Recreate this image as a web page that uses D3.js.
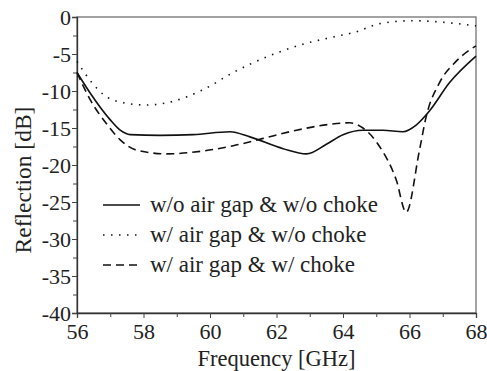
<!DOCTYPE html>
<html>
<head>
<meta charset="utf-8">
<script src="https://cdn.jsdelivr.net/npm/d3@7"></script>
</head>
<body style="margin:0; background:#fff">
<div id="chart"></div>
<script>
// values
const freqSolid = [56, 56.4, 57, 57.3, 57.6, 58.5, 59.5, 60.6, 61.2, 62.2, 62.9, 63.5, 64.0, 64.6, 65.2, 65.8, 66.2, 66.6, 67.2, 68];
const dbSolid   = [-7.5, -10.3, -13.9, -15.3, -15.9, -16.0, -15.9, -15.5, -16.2, -17.8, -18.5, -17.2, -15.9, -15.3, -15.3, -15.5, -14.6, -12.7, -8.9, -5.3];

const freqDotted = [56, 56.4, 56.8, 57.3, 58.1, 58.8, 59.8, 60.7, 61.7, 62.7, 63.6, 64.4, 65.1, 66.1, 67, 68];
const dbDotted   = [-6.0, -8.6, -10.5, -11.5, -11.9, -11.5, -9.8, -7.5, -5.4, -3.8, -2.8, -2.0, -0.9, -0.5, -0.7, -1.2];

const freqDashed = [56, 56.4, 56.9, 57.3, 57.8, 58.7, 59.8, 60.7, 61.6, 62.6, 63.6, 64.2, 64.6, 65.1, 65.6, 65.9, 66.3, 66.5, 66.9, 67.4, 68];
const dbDashed   = [-7.5, -11.2, -14.5, -16.6, -18.0, -18.5, -18.1, -17.4, -16.4, -15.3, -14.5, -14.3, -15.0, -17.5, -22.0, -26.4, -18.0, -13.5, -8.9, -6.0, -3.9];

const seriesNames = ["w/o air gap & w/o choke", "w/ air gap & w/o choke", "w/ air gap & w/ choke"];
const xTicks = [56, 58, 60, 62, 64, 66, 68];
const yTicks = [0, -5, -10, -15, -20, -25, -30, -35, -40];

const serif = "font-family:'Liberation Serif'; fill:#222; ";

const margin = {top: 17, right: 11, bottom: 58, left: 77};
const width = 487 - margin.left - margin.right;
const height = 371 - margin.top - margin.bottom;

const svg = d3.select("#chart").append("svg")
    .attr("width", 487)
    .attr("height", 371)
    .append("g")
    .attr("transform", `translate(${margin.left},${margin.top})`);

const x = d3.scaleLinear().domain([56, 68]).range([0, width]);
const y = d3.scaleLinear().domain([-40, 0]).range([height, 0]);

// frame
svg.append("rect")
    .attr("width", width)
    .attr("height", height)
    .attr("fill", "none")
    .attr("stroke", "#666")
    .attr("stroke-width", 1.2);

// plain hyphen for negatives, like the original
const fmt = d => String(d);

svg.append("g")
    .attr("transform", `translate(0,${height})`)
    .call(d3.axisBottom(x).tickValues(xTicks).tickSize(5).tickPadding(5).tickFormat(fmt));
svg.append("g")
    .attr("transform", `translate(0,${height})`)
    .call(d3.axisBottom(x).tickValues(d3.range(57, 68, 2)).tickSize(4).tickFormat(""))
    .select(".domain").remove();

svg.append("g")
    .call(d3.axisLeft(y).tickValues(yTicks).tickSize(5).tickPadding(1).tickFormat(fmt));
svg.append("g")
    .call(d3.axisLeft(y).tickValues(d3.range(-37.5, 0, 5)).tickSize(4).tickFormat(""))
    .select(".domain").remove();

svg.selectAll(".tick line").attr("stroke", "#444");
svg.selectAll(".domain").attr("stroke", "#333").attr("stroke-width", 1.3);
svg.selectAll(".tick text")
    .attr("fill", null)
    .attr("style", serif + "font-size:22px");

// axis titles
svg.append("text")
    .attr("x", width / 2)
    .attr("y", height + 53)
    .attr("text-anchor", "middle")
    .attr("style", serif + "font-size:22.5px")
    .text("Frequency [GHz]");

svg.append("text")
    .attr("transform", `translate(${-margin.left + 31},${163}) rotate(-90)`)
    .attr("text-anchor", "middle")
    .attr("style", serif + "font-size:23.5px")
    .text("Reflection [dB]");

// curves
const line = d3.line()
    .x(d => x(d[0]))
    .y(d => y(d[1]))
    .curve(d3.curveMonotoneX);

const series = [
    {f: freqSolid, v: dbSolid, dash: null},
    {f: freqDotted, v: dbDotted, dash: "1.5,6.5"},
    {f: freqDashed, v: dbDashed, dash: "8,5"}
];

series.forEach(s => {
    svg.append("path")
        .datum(s.f.map((f, i) => [f, s.v[i]]))
        .attr("d", line)
        .attr("fill", "none")
        .attr("stroke", "#111")
        .attr("stroke-width", 1.6)
        .attr("stroke-dasharray", s.dash);
});

// legend
const legend = svg.selectAll(".legendRow")
    .data(series)
    .enter()
    .append("g")
    .attr("class", "legendRow")
    .attr("transform", (d, i) => `translate(${103 - margin.left},${212 - margin.top + i * 30})`);

legend.append("line")
    .attr("x1", 0)
    .attr("x2", 37)
    .attr("y1", -7)
    .attr("y2", -7)
    .attr("stroke", "#111")
    .attr("stroke-width", 1.6)
    .attr("stroke-dasharray", d => d.dash);

legend.append("text")
    .attr("x", 47)
    .attr("y", 0)
    .attr("style", serif + "font-size:23px")
    .text((d, i) => seriesNames[i]);
</script>
</body>
</html>
